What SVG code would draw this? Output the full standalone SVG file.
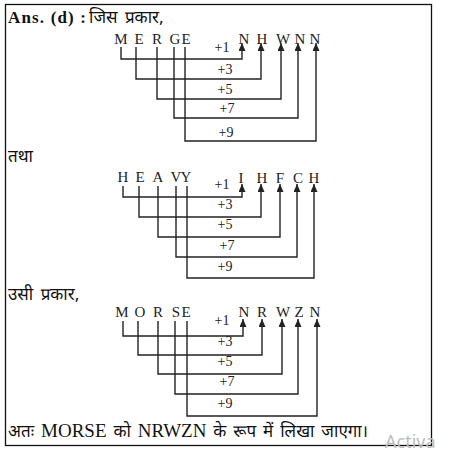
<svg xmlns="http://www.w3.org/2000/svg" width="470" height="469" viewBox="0 0 470 469">
<style>
.t{font-family:"Liberation Serif","Noto Serif Devanagari","Noto Sans Devanagari","Noto Sans",serif;fill:#111}
.d{font-family:"Noto Sans Devanagari","Noto Serif Devanagari","Liberation Serif","Noto Sans",serif;font-size:17px;fill:#111}
.L{font-family:"Liberation Serif",serif;font-size:15px;fill:#222;text-anchor:middle}
.p{font-family:"Liberation Serif",serif;font-size:14px;fill:#222;text-anchor:middle}
.c{fill:none;stroke:#222;stroke-width:1.4;marker-end:url(#ah)}
</style>
<defs>
<marker id="ah" markerUnits="userSpaceOnUse" viewBox="0 0 8 7" refX="8" refY="3.5" markerWidth="8" markerHeight="7" orient="auto">
<path d="M0,0 L8,3.5 L0,7 z" fill="#222"/>
</marker>
</defs>
<rect x="5.5" y="4.5" width="426" height="441" fill="#fff" stroke="#111" stroke-width="1.3"/>
<g id="header">
<text class="t" x="8" y="23" font-size="17" font-weight="bold" textLength="78" lengthAdjust="spacing">Ans. (d) :</text>
<text class="d" x="89" y="23" word-spacing="3">जिस प्रकार,</text>
</g>
<g id="merge-letters">
<text class="L" x="121" y="44">M</text><text class="L" x="139" y="44">E</text><text class="L" x="157" y="44">R</text><text class="L" x="175" y="44">G</text><text class="L" x="186" y="44">E</text>
<text class="L" x="244" y="44">N</text><text class="L" x="262" y="44">H</text><text class="L" x="283" y="44">W</text><text class="L" x="300" y="44">N</text><text class="L" x="315" y="44">N</text>
</g>
<g id="merge-labels">
<text class="p" x="222" y="52">+1</text><text class="p" x="225" y="74">+3</text><text class="p" x="225" y="94">+5</text><text class="p" x="227" y="113">+7</text><text class="p" x="226" y="137">+9</text>
</g>
<g id="merge-connectors">
<path class="c" d="M121,47 V59 H242 V43"/>
<path class="c" d="M136,47 V79 H261 V43"/>
<path class="c" d="M157,47 V99 H281 V43"/>
<path class="c" d="M174,47 V118 H298 V43"/>
<path class="c" d="M185,47 V141 H316 V43"/>
</g>
<g id="tatha"><text class="d" x="8" y="162">तथा</text></g>
<g id="heavy-letters">
<text class="L" x="123" y="182">H</text><text class="L" x="140" y="182">E</text><text class="L" x="158" y="182">A</text><text class="L" x="176" y="182">V</text><text class="L" x="186" y="182">Y</text>
<text class="L" x="241" y="183">I</text><text class="L" x="262" y="183">H</text><text class="L" x="280" y="183">F</text><text class="L" x="298" y="183">C</text><text class="L" x="314" y="183">H</text>
</g>
<g id="heavy-labels">
<text class="p" x="222" y="189">+1</text><text class="p" x="225" y="209">+3</text><text class="p" x="225" y="229">+5</text><text class="p" x="227" y="250">+7</text><text class="p" x="225" y="271">+9</text>
</g>
<g id="heavy-connectors">
<path class="c" d="M123,186 V197 H242 V184"/>
<path class="c" d="M139,186 V217 H261 V184"/>
<path class="c" d="M158,186 V237 H280 V184"/>
<path class="c" d="M176,186 V257 H297 V184"/>
<path class="c" d="M187,186 V278 H314 V184"/>
</g>
<g id="usi"><text class="d" x="8" y="300" word-spacing="3">उसी प्रकार,</text></g>
<g id="morse-letters">
<text class="L" x="122" y="317">M</text><text class="L" x="140" y="317">O</text><text class="L" x="158" y="317">R</text><text class="L" x="176" y="317">S</text><text class="L" x="186" y="317">E</text>
<text class="L" x="244" y="317">N</text><text class="L" x="262" y="317">R</text><text class="L" x="283" y="317">W</text><text class="L" x="299" y="317">Z</text><text class="L" x="315" y="317">N</text>
</g>
<g id="morse-labels">
<text class="p" x="222" y="325">+1</text><text class="p" x="225" y="346">+3</text><text class="p" x="225" y="366">+5</text><text class="p" x="227" y="386">+7</text><text class="p" x="225" y="408">+9</text>
</g>
<g id="morse-connectors">
<path class="c" d="M123,321 V336 H243 V319"/>
<path class="c" d="M138,321 V355 H262 V319"/>
<path class="c" d="M158,321 V374 H282 V319"/>
<path class="c" d="M175,321 V394 H298 V319"/>
<path class="c" d="M187,321 V416 H317 V319"/>
</g>
<g id="conclusion">
<text class="d" x="8" y="437" font-size="18" word-spacing="2.5">अतः <tspan font-family="Liberation Serif" font-size="19">MORSE</tspan> को <tspan font-family="Liberation Serif" font-size="19">NRWZN</tspan> के रूप में लिखा जाएगा।</text>
</g>
<text x="385" y="448" font-family="Noto Sans,sans-serif" font-size="18" fill="#bdbdbd">Activa</text>
</svg>
